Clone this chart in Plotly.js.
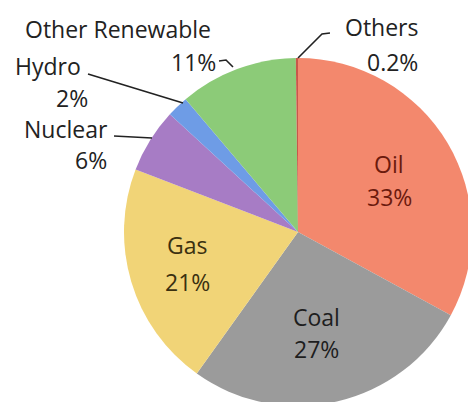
<!DOCTYPE html>
<html>
<head>
<meta charset="utf-8">
<script src="https://cdn.plot.ly/plotly-3.0.1.min.js"></script>
<style>
html,body{margin:0;padding:0;overflow:hidden;background:#fff;width:468px;height:402px;}
#chart{position:absolute;left:0;top:0;width:600px;height:500px;}
</style>
</head>
<body>
<div id="chart"></div>
<script>
// Data
const categories = ["Oil", "Coal", "Gas", "Nuclear", "Hydro", "Other Renewable", "Others"];
const shares = [33, 27, 21, 6, 2, 11, 0.2];
const pctLabels = ["33%", "27%", "21%", "6%", "2%", "11%", "0.2%"];

const colors = ["#F3886D", "#9B9B9B", "#F1D477", "#A77CC5", "#6E9CE6", "#8CCB78", "#C8574A"];
const nameColors = ["#6B1A0D", "#1E1E1E", "#3A3010", "#222222", "#222222", "#222222", "#222222"];

// label placement (pixel coords in the 600x500 canvas): [nameX, nameY, pctX, pctY, anchorName]
const place = [
  [389, 164, 389, 197, "center"],
  [316, 317, 316, 349, "center"],
  [187, 245, 187, 282, "center"],
  [66, 129, 91, 160, "center"],
  [13, 66, 72, 98, "left"],
  [118, 29, 193, 62, "center"],
  [381, 27, 392, 62, "center"]
];

const W = 600, H = 500;
const font = "Open Sans, Noto Sans, sans-serif";
const fsize = 23;

const annotations = [];
categories.forEach((c, i) => {
  const p = place[i];
  annotations.push({xref: "x", yref: "y", x: p[0], y: p[1], text: c, showarrow: false,
    xanchor: p[4], yanchor: "middle", font: {family: font, size: fsize, color: nameColors[i]}});
  annotations.push({xref: "x", yref: "y", x: p[2], y: p[3], text: pctLabels[i], showarrow: false,
    xanchor: "center", yanchor: "middle", font: {family: font, size: fsize, color: nameColors[i]}});
});

const leader = {color: "#222222", width: 1.6};
const shapes = [
  {type: "path", xref: "x", yref: "y", path: "M 88 74 L 183 103", line: leader, layer: "above"},
  {type: "path", xref: "x", yref: "y", path: "M 114 136 L 152 138", line: leader, layer: "above"},
  {type: "path", xref: "x", yref: "y", path: "M 219 61 L 226 60 L 233 67", line: leader, layer: "above"},
  {type: "path", xref: "x", yref: "y", path: "M 298 58 L 322 34 L 330 33", line: leader, layer: "above"}
];

const pieTrace = {
  type: "pie",
  labels: categories,
  values: shares,
  sort: false,
  direction: "clockwise",
  rotation: 0,
  textinfo: "none",
  hoverinfo: "label+percent",
  marker: {colors: colors, line: {width: 0}},
  domain: {x: [124 / W, 472 / W], y: [1 - 406 / H, 1 - 58 / H]},
  showlegend: false
};

const dummy = {type: "scatter", x: [], y: [], showlegend: false, hoverinfo: "skip"};

const layout = {
  width: W, height: H,
  margin: {l: 0, r: 0, t: 0, b: 0, pad: 0},
  paper_bgcolor: "#ffffff",
  plot_bgcolor: "rgba(0,0,0,0)",
  showlegend: false,
  xaxis: {range: [0, W], visible: false, fixedrange: true},
  yaxis: {range: [H, 0], visible: false, fixedrange: true},
  annotations: annotations,
  shapes: shapes
};

Plotly.newPlot("chart", [dummy, pieTrace], layout, {displayModeBar: false, staticPlot: true});
</script>
</body>
</html>
